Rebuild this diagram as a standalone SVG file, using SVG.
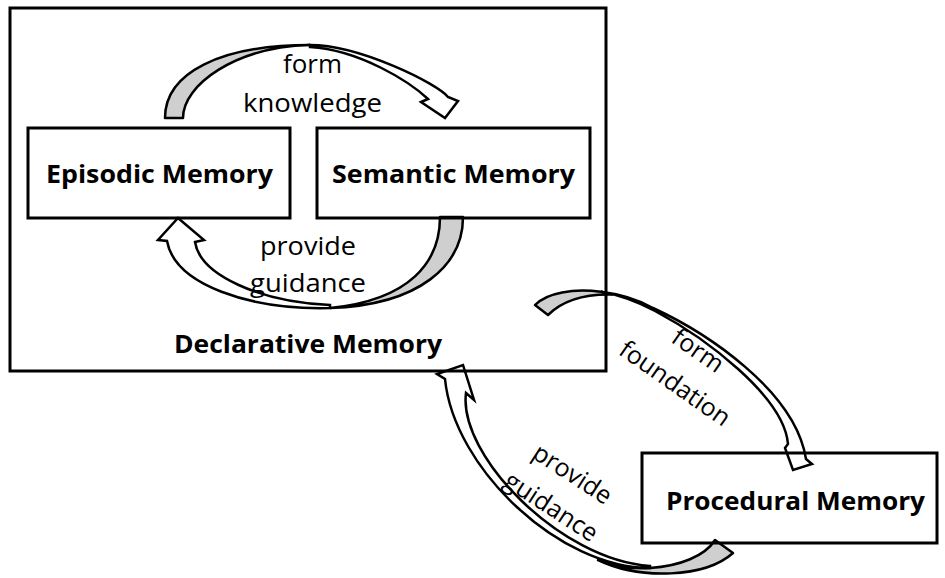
<svg xmlns="http://www.w3.org/2000/svg" width="945" height="578" viewBox="0 0 945 578">
<style>
.box{fill:none;stroke:#000;stroke-width:3}
.back{fill:#cfcfcf;stroke:#000;stroke-width:2.5;stroke-linejoin:round}
.front{fill:#fff;stroke:#000;stroke-width:2.5;stroke-linejoin:miter}
.title{font-family:"Open Sans","Liberation Sans",sans-serif;font-weight:bold;font-size:25px;text-anchor:middle;fill:#000}
.lbl{font-family:"Open Sans","Liberation Sans",sans-serif;font-size:25px;text-anchor:middle;fill:#000}
</style>
<rect width="945" height="578" fill="#fff"/>
<g id="connectors">
  <g id="form-knowledge">
    <path class="back" d="M165,118 C165,73 220,45 310,45 C235,47 183,85 183,118 Z"/>
    <path class="front" d="M310,45 C360,45 438,84 448,97 L458,101 L445,118 L421,102 L428,99 C410,82 360,50 310,47 Z"/>
    <text class="lbl" x="312.5" y="73" textLength="59" lengthAdjust="spacingAndGlyphs">form</text>
    <text class="lbl" x="312.5" y="112" textLength="139" lengthAdjust="spacingAndGlyphs">knowledge</text>
  </g>
  <g id="provide-guidance-inner">
    <path class="back" d="M463,217 C463,265 420,305 330,308 C410,300 440,262 440,217 Z"/>
    <path class="front" d="M330,308 C250,310 175,285 167,241 L158,240 L178,218 L204,240 L195,242 C200,275 260,302 330,305 Z"/>
    <text class="lbl" x="308" y="255" textLength="96" lengthAdjust="spacingAndGlyphs">provide</text>
    <text class="lbl" x="308" y="292" textLength="116" lengthAdjust="spacingAndGlyphs">guidance</text>
  </g>
  <g id="form-foundation">
    <path class="back" d="M535,305 C547,292.4 573.4,288.4 600.8,291.8 C605,292.5 609,293.5 612,294.5 C590,294 565,298 548,315 Z"/>
    <path class="front" d="M600.8,291.8 C619.1,294 637.8,299.6 653,308 C705,332 795,390 806,459 L812,464 L793,470 L785,448 L788,444 C784,396 704,337 655,311 C640,303 620,295 600.8,291.8 Z"/>
    <g transform="translate(686.5,367) rotate(35)">
      <text class="lbl" x="0" y="-11.5">form</text>
      <text class="lbl" x="0" y="28.5">foundation</text>
    </g>
  </g>
  <g id="provide-guidance-outer">
    <path class="back" d="M715,540 C705,556 680,566 650,568 C630,569 612,566 598,560 C640,580 705,578 733,553 Z"/>
    <path class="front" d="M650,568 C560,568 454,469 445,379 L437,374 L463,365 L474,400 L466,393 C458,455 560,560 650,566 Z"/>
    <g transform="translate(560.5,492.5) rotate(33)">
      <text class="lbl" x="0" y="-13.5">provide</text>
      <text class="lbl" x="0" y="25.5">guidance</text>
    </g>
  </g>
</g>
<g id="declarative">
  <rect class="box" x="10" y="8" width="596" height="363"/>
  <text class="title" x="308" y="353" textLength="268" lengthAdjust="spacingAndGlyphs">Declarative Memory</text>
</g>
<g id="episodic">
  <rect class="box" x="28" y="128" width="262" height="90"/>
  <text class="title" x="159.5" y="183" textLength="227" lengthAdjust="spacingAndGlyphs">Episodic Memory</text>
</g>
<g id="semantic">
  <rect class="box" x="317" y="128" width="273" height="90"/>
  <text class="title" x="453.5" y="183" textLength="243" lengthAdjust="spacingAndGlyphs">Semantic Memory</text>
</g>
<g id="procedural">
  <rect class="box" x="642" y="453" width="295" height="90"/>
  <text class="title" x="795.5" y="510" textLength="259" lengthAdjust="spacingAndGlyphs">Procedural Memory</text>
</g>
</svg>
